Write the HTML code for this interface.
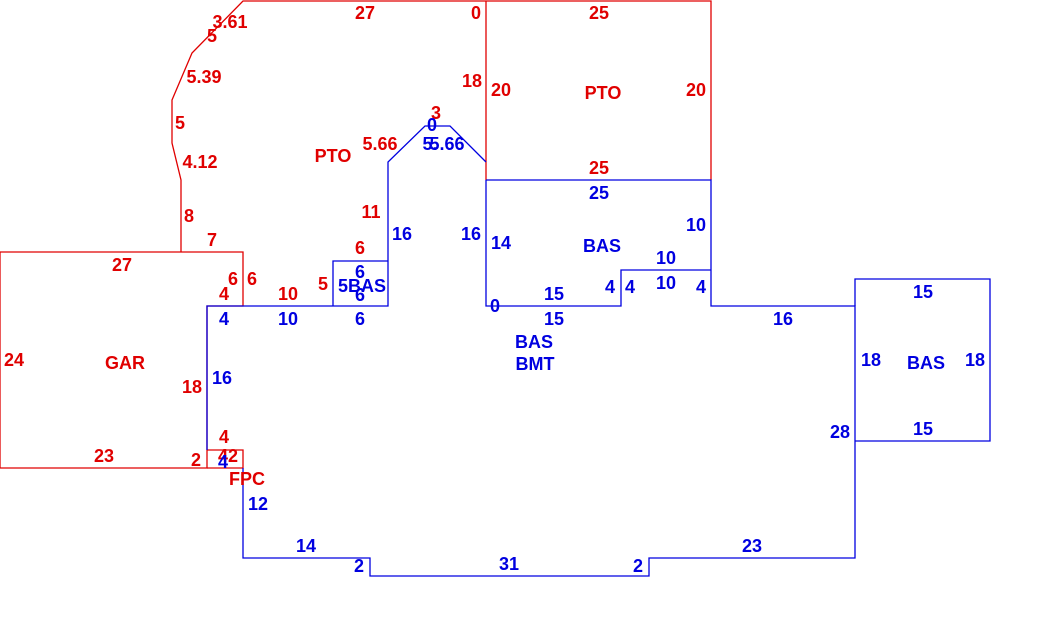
<!DOCTYPE html>
<html><head><style>body{margin:0;background:#fff}svg{display:block}text{font-family:"Liberation Sans",sans-serif;font-weight:bold;font-size:18px;text-anchor:middle}.r{fill:#e00000}.b{fill:#0000e0}</style></head><body>
<svg width="1040" height="637" viewBox="0 0 1040 637">
<g fill="none" stroke-width="1.3">
<path stroke="#e00000" d="M0,252H243V306H207V468H0Z"/>
<path stroke="#e00000" d="M181,252V180L172,143V100L192,53L243,1H711V180M486,1V180"/>
<path stroke="#e00000" d="M207,450H243V468H207"/>
<path stroke="#0000e0" d="M486,162L450,126H425L388,162V306H207V450M333,306V261H388"/>
<path stroke="#0000e0" d="M486,180H711V306H855V558H649V576H370V558H243V468M486,180V306H621V270H711"/>
<path stroke="#0000e0" d="M855,306V279H990V441H855"/>
</g>
<g class="r">
<text x="230" y="28">3.61</text><text x="212" y="42">5</text><text x="365" y="19">27</text><text x="476" y="19">0</text>
<text x="204" y="83">5.39</text><text x="180" y="129">5</text><text x="200" y="168">4.12</text><text x="189" y="222">8</text><text x="212" y="246">7</text>
<text x="472" y="87">18</text><text x="501" y="96">20</text><text x="436" y="119">3</text><text x="380" y="150">5.66</text><text x="333" y="162">PTO</text>
<text x="371" y="218">11</text><text x="360" y="254">6</text><text x="233" y="285">6</text><text x="252" y="285">6</text><text x="224" y="300">4</text><text x="288" y="300">10</text><text x="323" y="290">5</text>
<text x="122" y="271">27</text><text x="14" y="366">24</text><text x="125" y="369">GAR</text><text x="192" y="393">18</text>
<text x="224" y="443">4</text><text x="104" y="462">23</text><text x="196" y="466">2</text><text x="228" y="462">42</text><text x="247" y="485">FPC</text>
<text x="599" y="19">25</text><text x="603" y="99">PTO</text><text x="696" y="96">20</text><text x="599" y="174">25</text>
</g>
<g class="b">
<text x="432" y="131">0</text><text x="430" y="150">5.</text><text x="447" y="150">5.66</text>
<text x="402" y="240">16</text><text x="471" y="240">16</text><text x="501" y="249">14</text>
<text x="360" y="278">6</text><text x="362" y="292">5BAS</text><text x="360" y="301">6</text><text x="360" y="325">6</text>
<text x="224" y="325">4</text><text x="288" y="325">10</text><text x="222" y="384">16</text><text x="223" y="468">4</text>
<text x="599" y="199">25</text><text x="602" y="252">BAS</text><text x="696" y="231">10</text><text x="666" y="264">10</text><text x="666" y="289">10</text>
<text x="554" y="300">15</text><text x="610" y="293">4</text><text x="630" y="293">4</text><text x="701" y="293">4</text><text x="495" y="312">0</text>
<text x="554" y="325">15</text><text x="534" y="348">BAS</text><text x="535" y="370">BMT</text><text x="783" y="325">16</text>
<text x="923" y="298">15</text><text x="871" y="366">18</text><text x="926" y="369">BAS</text><text x="975" y="366">18</text><text x="923" y="435">15</text><text x="840" y="438">28</text>
<text x="258" y="510">12</text><text x="306" y="552">14</text><text x="359" y="572">2</text><text x="509" y="570">31</text><text x="638" y="572">2</text><text x="752" y="552">23</text>
</g>
</svg></body></html>
